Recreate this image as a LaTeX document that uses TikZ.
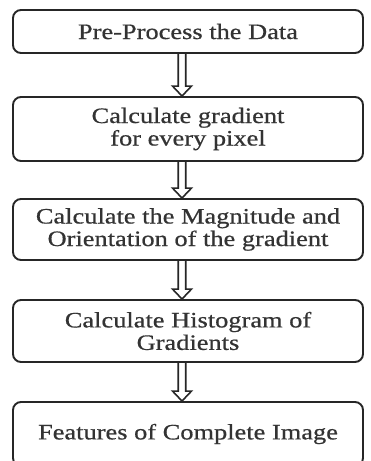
\documentclass[tikz,border=0pt]{standalone}
\usepackage{fontspec}
\setmainfont[FakeStretch=1.2,FakeBold=0.6]{Liberation Serif}
\usetikzlibrary{calc}
\begin{document}
\begin{tikzpicture}[x=1pt,y=-1pt,
  stepbox/.style={draw=black!85, line width=1.9pt, rounded corners=8pt,
    minimum width=350pt, inner sep=0pt, align=center, text=black!80,
    font=\fontsize{22}{22.5}\selectfont},
  dblarrow/.style={draw=black!85, line width=1.6pt, line join=miter,
    to path={let \p1=(\tikztostart), \p2=(\tikztotarget) in
      (\x1-3.75pt,\y1) -- (\x1-3.75pt,\y2+10pt) -- (\x1-9.5pt,\y2+10pt)
      -- (\x2,\y2) -- (\x1+9.5pt,\y2+10pt) -- (\x1+3.75pt,\y2+10pt)
      -- (\x1+3.75pt,\y1)}}]
\fill[white] (0,0) rectangle (370,461);
\useasboundingbox (0,0) rectangle (370,461);
\clip (0,0) rectangle (370,461);
\node[stepbox, minimum height=43pt] (b1) at (188,31.5) {Pre-Process the Data};
\node[stepbox, minimum height=64pt] (b2) at (188,129) {Calculate gradient\\for every pixel};
\node[stepbox, minimum height=61pt] (b3) at (188,229.5) {Calculate the Magnitude and\\Orientation of the gradient};
\node[stepbox, minimum height=62pt] (b4) at (188,331) {Calculate Histogram of\\Gradients};
\node[stepbox, minimum height=64pt] (b5) at (188,434) {Features of Complete Image};
\draw[dblarrow] ([xshift=-6pt]b1.south) to ([xshift=-6pt]b2.north);
\draw[dblarrow] ([xshift=-6pt]b2.south) to ([xshift=-6pt]b3.north);
\draw[dblarrow] ([xshift=-6pt]b3.south) to ([xshift=-6pt]b4.north);
\draw[dblarrow] ([xshift=-6pt]b4.south) to ([xshift=-6pt]b5.north);
\end{tikzpicture}
\end{document}
